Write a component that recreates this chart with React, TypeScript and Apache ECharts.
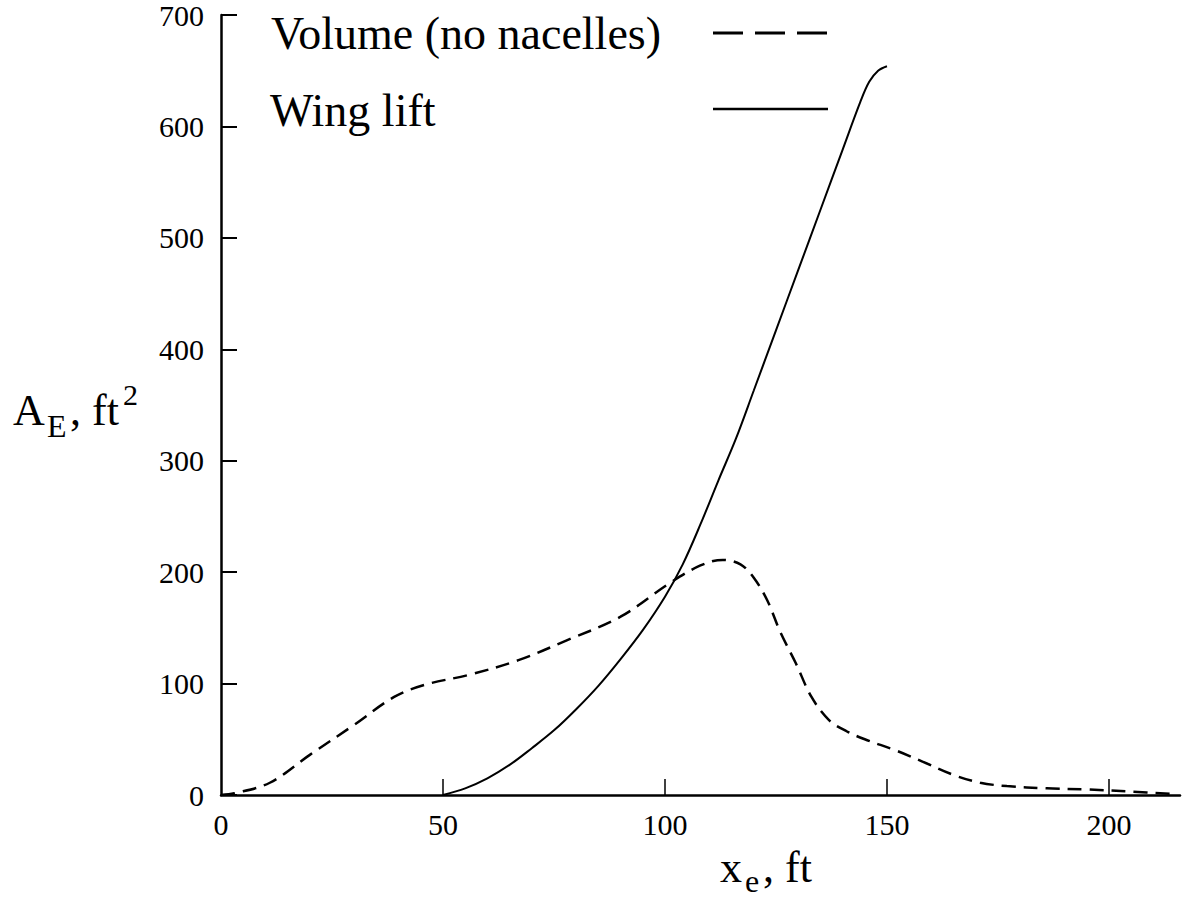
import React, { useEffect, useRef } from "react";
import * as echarts from "echarts";

// x_e (ft) positions and A_E (ft^2) values
const volumeX = [0, 3, 11, 20, 30, 39, 46, 56, 67, 78, 90, 101, 108, 113, 117, 120, 123, 126, 129.5, 133, 137, 141, 145, 152, 158, 165, 171, 177, 186, 195, 205, 214];
const volumeY = [0, 1.5, 11, 36, 63, 88, 99, 108, 121, 139, 160, 190, 206, 211, 207, 195, 175, 146, 118, 88, 67, 57, 50, 40, 30, 18, 11, 8, 6, 5, 3, 1];

const liftX = [50, 55, 60, 65, 70, 75, 80, 85, 90, 95, 100, 104, 108, 112, 116, 120, 125, 130, 135, 140, 144, 146, 148, 150];
const liftY = [0, 6, 15, 27, 42, 58, 77, 98, 122, 148, 178, 207, 243, 282, 320, 363, 417, 471, 525, 579, 622, 640, 650, 654];

const xTickValues = [50, 100, 150, 200];
const xLabelValues = [0, 50, 100, 150, 200];

const seriesNames = ["Volume (no nacelles)", "Wing lift"];

const FONT = '"Liberation Serif", "DejaVu Serif", serif';

export default function App() {
  const ref = useRef<HTMLDivElement>(null);

  useEffect(() => {
    if (!ref.current) return;
    const chart = echarts.init(ref.current, undefined, { renderer: "svg" });

    const volumeData = volumeX.map((x, i) => [x, volumeY[i]]);
    const liftData = liftX.map((x, i) => [x, liftY[i]]);

    const txt = (text: string, x: number, y: number, size: number) => ({
      type: "text",
      x,
      y,
      style: {
        text,
        fontFamily: FONT,
        fontSize: size,
        fill: "#000",
        align: "left",
        verticalAlign: "middle",
      },
      silent: true,
    });

    chart.setOption({
      animation: false,
      backgroundColor: "#fff",
      grid: { left: 221, top: 15, width: 959, height: 780, containLabel: false },
      xAxis: {
        type: "value",
        min: 0,
        max: 216,
        interval: 50,
        axisLine: { show: true, lineStyle: { color: "#000", width: 2.5 } },
        axisTick: {
          show: true,
          inside: true,
          length: 16,
          lineStyle: { color: "#000", width: 1.5 },
          customValues: xTickValues,
        },
        axisLabel: {
          show: true,
          color: "#000",
          fontFamily: FONT,
          fontSize: 30,
          margin: 14,
          customValues: xLabelValues,
        },
        splitLine: { show: false },
      },
      yAxis: {
        type: "value",
        min: 0,
        max: 700,
        interval: 100,
        axisLine: { show: true, lineStyle: { color: "#000", width: 2.5 } },
        axisTick: { show: true, inside: true, length: 16, lineStyle: { color: "#000", width: 2 } },
        axisLabel: { color: "#000", fontFamily: FONT, fontSize: 30, margin: 17 },
        splitLine: { show: false },
      },
      series: [
        {
          name: seriesNames[0],
          type: "line",
          data: volumeData,
          showSymbol: false,
          smooth: 0.35,
          lineStyle: { color: "#000", width: 2.5, type: [14, 8] },
          silent: true,
        },
        {
          name: seriesNames[1],
          type: "line",
          data: liftData,
          showSymbol: false,
          smooth: 0.35,
          lineStyle: { color: "#000", width: 2 },
          silent: true,
        },
      ],
      graphic: [
        txt(seriesNames[0], 271, 33, 46),
        txt(seriesNames[1], 270, 110, 46),
        {
          type: "line",
          shape: { x1: 713, y1: 33, x2: 828, y2: 33 },
          style: { stroke: "#000", lineWidth: 3, lineDash: [30, 12] },
          silent: true,
        },
        {
          type: "line",
          shape: { x1: 713, y1: 109, x2: 828, y2: 109 },
          style: { stroke: "#000", lineWidth: 2.5 },
          silent: true,
        },
        // y axis title: A_E, ft^2
        txt("A", 13, 410, 44),
        txt("E", 47, 426, 32),
        txt(", ft", 70, 410, 44),
        txt("2", 123, 394, 30),
        // x axis title: x_e, ft
        txt("x", 720, 867, 44),
        txt("e", 745, 881, 32),
        txt(", ft", 763, 867, 44),
      ],
    });

    return () => chart.dispose();
  }, []);

  return (
    <div
      ref={ref}
      style={{ position: "fixed", left: 0, top: 0, width: 1185, height: 909, background: "#fff" }}
    />
  );
}
